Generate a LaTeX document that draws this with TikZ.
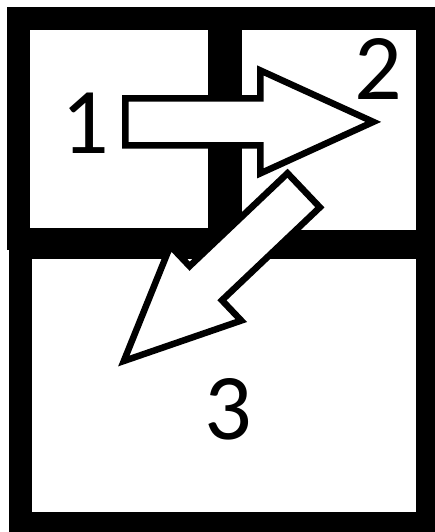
\documentclass[tikz,border=0pt]{standalone}
\usepackage{fontspec}
\setmainfont{Carlito}
\tikzset{
  fpwall/.style={fill=black},
  fproom/.style={fill=white},
  fplabel/.style={inner sep=0pt,font=\fontsize{94}{94}\selectfont},
  fpblockarrow/.pic={
    \draw[line width=6.5pt,miter limit=20,fill=white]
      (0,-23.5) -- (135,-23.5) -- (135,-51.5) -- (248,0)
      -- (135,51.5) -- (135,23.5) -- (0,23.5) -- cycle;
  }
}
\begin{document}
\begin{tikzpicture}[x=1pt,y=1pt]
  \useasboundingbox (0,0) rectangle (435,532);
  % walls: upper block and lower block, then the three rooms cut out
  \fill[fpwall] (7,282) rectangle (435,525);
  \fill[fpwall] (9,0) rectangle (435,297);
  \fill[fproom] (30,304) rectangle (208,502);
  \fill[fproom] (242,302) rectangle (416,502);
  \fill[fproom] (31.5,20) rectangle (416,273);
  % room numbers
  \node[fplabel] (r1) at (85,409) {1};
  \node[fplabel] (r2) at (378.5,462.5) {2};
  \node[fplabel] (r3) at (228.5,122.5) {3};
  % moves 1 -> 2 and 2 -> 3
  \coordinate (a12) at (125.3,410.1);
  \coordinate (a23) at (303.7,341.7);
  \pic at (a12) {fpblockarrow};
  \pic[rotate=223.5] at (a23) {fpblockarrow};
\end{tikzpicture}
\end{document}
